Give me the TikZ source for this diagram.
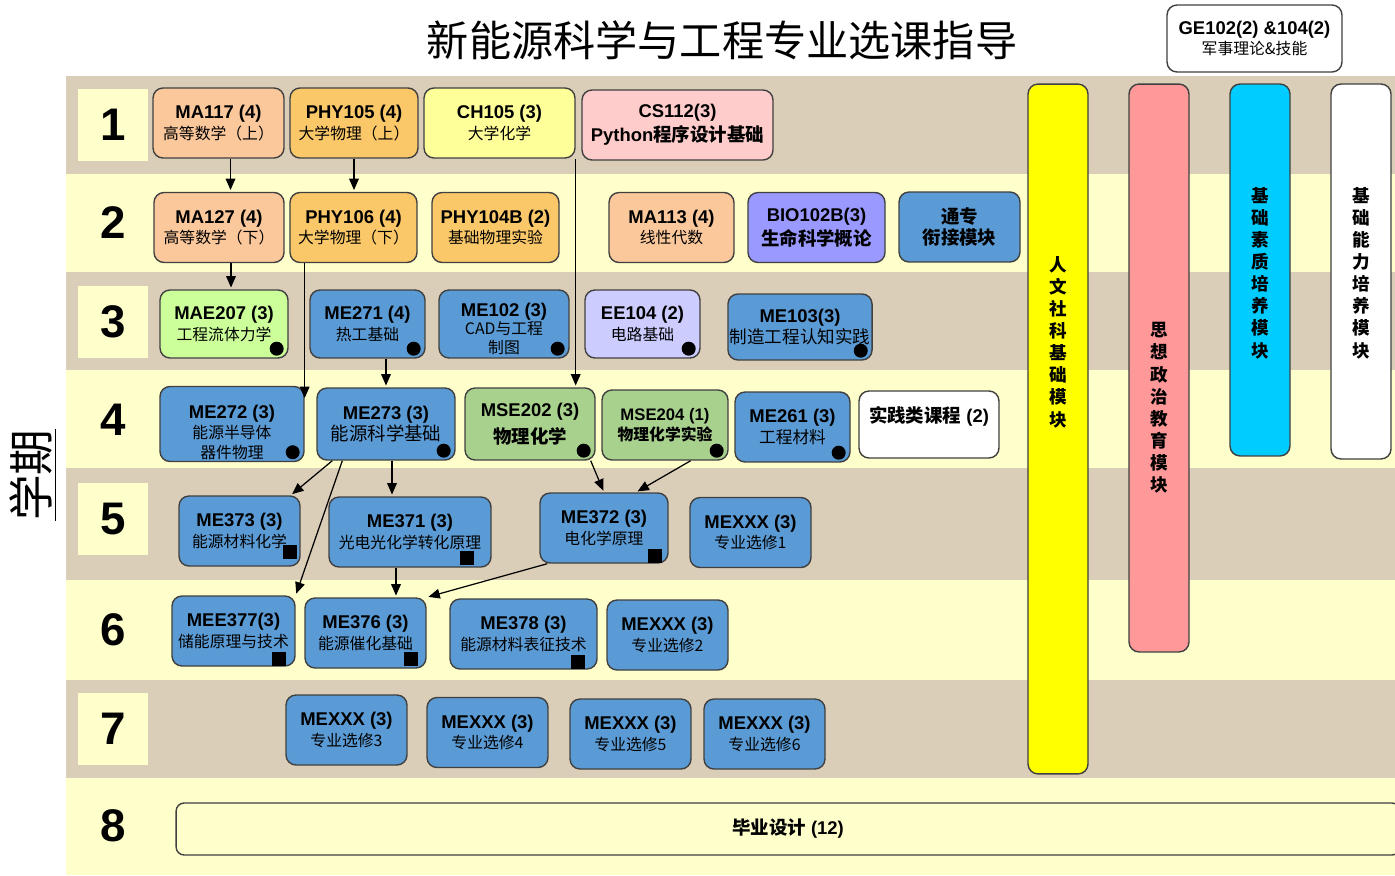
\documentclass[tikz,border=0pt]{standalone}
\usepackage{fontspec}
\setmainfont{Liberation Sans}
\newfontfamily\cjk{Noto Sans CJK SC}
\usetikzlibrary{positioning,calc,arrows.meta}
\definecolor{bandtan}{RGB}{219,206,184}
\definecolor{bandyel}{RGB}{255,255,204}
\definecolor{peach}{RGB}{251,200,156}
\definecolor{orangey}{RGB}{250,200,105}
\definecolor{chemyel}{RGB}{255,255,153}
\definecolor{cspink}{RGB}{255,204,204}
\definecolor{bioblue}{RGB}{153,153,255}
\definecolor{meblue}{RGB}{91,155,213}
\definecolor{maegreen}{RGB}{204,255,153}
\definecolor{eelilac}{RGB}{204,204,255}
\definecolor{msegreen}{RGB}{169,209,142}
\definecolor{modyellow}{RGB}{255,255,0}
\definecolor{modpink}{RGB}{255,153,153}
\definecolor{modcyan}{RGB}{0,204,255}
\newcommand{\zh}[1]{{\cjk\fontsize{9}{10}\selectfont #1}}
\newcommand{\zhb}[1]{{\cjk\bfseries #1}}
\tikzset{
  course/.style={draw=black!75, line width=0.8pt, rounded corners=0.2cm, align=center,
    inner sep=1pt, minimum height=1.4cm, font=\fontsize{10.5}{11.5}\selectfont},
  numbox/.style={fill=bandyel, minimum width=1.4cm, minimum height=1.44cm,
    font=\fontsize{26}{26}\selectfont\bfseries},
  modbar/.style={draw=black!75, line width=0.8pt, rounded corners=0.2cm, minimum width=1.2cm},
  vtext/.style={align=center, font=\cjk\bfseries\fontsize{10}{12.6}\selectfont},
  arr/.style={->, line width=0.7pt, shorten >=1pt}
}
\begin{document}
\begin{tikzpicture}[x=0.02cm, y=-0.02cm, >={Triangle[length=6.5pt,width=5.5pt]}]
    \useasboundingbox (0,0) rectangle (1395,875);

    % semester bands
    \foreach \top/\bot/\col in {76/174/bandtan, 174/272/bandyel, 272/370/bandtan, 370/468/bandyel,
        468/580/bandtan, 580/680/bandyel, 680/778/bandtan, 778/875/bandyel}
        \fill[\col] (66,\top) rectangle (1395,\bot);
    \foreach \i/\y in {1/125, 2/223, 3/322, 4/420, 5/519, 6/630, 7/729, 8/826}
        \node[numbox] (sem\i) at (113,\y) {\i};

    % title and side label
    \node[font=\cjk\fontsize{24}{24}\selectfont] (title) at (722,40) {新能源科学与工程专业选课指导};
    \node[rotate=90, font=\cjk\fontsize{26}{26}\selectfont] (term) at (33,475) {\underline{学期}};
    \node[course, fill=white, minimum width=3.5cm, minimum height=1.34cm] (ge) at (1254.5,38.5)
        {{\bfseries GE102(2) \&104(2)}\\\zh{军事理论\&技能}};

    % module bars
    \node[modbar, fill=modyellow, minimum height=13.8cm] (renwen) at (1058,429) {};
    \node[modbar, fill=modpink, minimum height=11.36cm] (sixiang) at (1159,368) {};
    \node[modbar, fill=modcyan, minimum height=7.44cm] (suzhi) at (1260,270) {};
    \node[modbar, fill=white, minimum height=7.5cm] (nengli) at (1361,271.5) {};
    \node[vtext] (renwen-t) at (1058,342) {人\\文\\社\\科\\基\\础\\模\\块};
    \node[vtext] (sixiang-t) at (1159,408) {思\\想\\政\\治\\教\\育\\模\\块};
    \node[vtext] (suzhi-t) at (1260,273) {基\\础\\素\\质\\培\\养\\模\\块};
    \node[vtext] (nengli-t) at (1361,273) {基\\础\\能\\力\\培\\养\\模\\块};

    % semester 1
    \node[course, fill=peach, minimum width=2.62cm] (ma117) at (218.5,123) {{\bfseries MA117 (4)}\\\zh{高等数学（上）}};
    \node[course, fill=orangey, minimum width=2.56cm] (phy105) at (354,123) {{\bfseries PHY105 (4)}\\\zh{大学物理（上）}};
    \node[course, fill=chemyel, minimum width=3.02cm] (ch105) at (499.5,123) {{\bfseries CH105 (3)}\\\zh{大学化学}};
    \node[course, fill=cspink, minimum width=3.82cm] (cs112) at (677.5,125) {{\bfseries CS112(3)}\\[2pt]{\bfseries Python\zhb{程序设计基础}}};

    % semester 2
    \node[course, fill=peach, minimum width=2.6cm] (ma127) at (219,227.5) {{\bfseries MA127 (4)}\\\zh{高等数学（下）}};
    \node[course, fill=orangey, minimum width=2.54cm] (phy106) at (353.5,227.5) {{\bfseries PHY106 (4)}\\\zh{大学物理（下）}};
    \node[course, fill=orangey, minimum width=2.54cm] (phy104b) at (495.5,227.5) {{\bfseries PHY104B (2)}\\\zh{基础物理实验}};
    \node[course, fill=peach, minimum width=2.5cm] (ma113) at (671.5,227.5) {{\bfseries MA113 (4)}\\\zh{线性代数}};
    \node[course, fill=bioblue, minimum width=2.74cm] (bio102b) at (816.5,227.5) {{\bfseries BIO102B(3)}\\[2pt]\zhb{生命科学概论}};
    \node[course, fill=meblue, minimum width=2.42cm] (tongzhuan) at (959.5,227) {\zhb{通专}\\\zhb{衔接模块}};

    % semester 3
    \node[course, fill=maegreen, minimum width=2.56cm, minimum height=1.36cm] (mae207) at (224,324) {{\bfseries MAE207 (3)}\\\zh{工程流体力学}};
    \node[course, fill=meblue, minimum width=2.3cm, minimum height=1.36cm] (me271) at (367.5,324) {{\bfseries ME271 (4)}\\\zh{热工基础}};
    \node[course, fill=meblue, minimum width=2.6cm, minimum height=1.36cm, inner ysep=0pt, font=\fontsize{10.5}{10.5}\selectfont] (me102) at (504,324) {\rule{0pt}{13pt}{\bfseries ME102 (3)}\\\zh{CAD与工程}\\\zh{制图}};
    \node[course, fill=eelilac, minimum width=2.3cm, minimum height=1.36cm] (ee104) at (642.5,324) {{\bfseries EE104 (2)}\\\zh{电路基础}};
    \node[course, fill=meblue, minimum width=2.8cm, minimum height=1.32cm] (me103) at (800,327) {{\bfseries ME103(3)}\\{\cjk\fontsize{10}{10}\selectfont 制造工程认知实践}};

    % semester 4
    \node[course, fill=meblue, minimum width=2.88cm, minimum height=1.44cm] (me272) at (232,424) {\rule{0pt}{17pt}{\bfseries ME272 (3)}\\\zh{能源半导体}\\\zh{器件物理}};
    \node[course, fill=meblue, minimum width=2.76cm, minimum height=1.44cm] (me273) at (386,424) {{\bfseries ME273 (3)}\\{\cjk 能源科学基础}};
    \node[course, fill=msegreen, minimum width=2.6cm, minimum height=1.44cm] (mse202) at (530,424) {{\bfseries MSE202 (3)}\\[4pt]\zhb{物理化学}};
    \node[course, fill=msegreen, minimum width=2.52cm] (mse204) at (665,425) {{\bfseries\fontsize{9.5}{11}\selectfont MSE204 (1)}\\{\cjk\bfseries\fontsize{9}{10}\selectfont 物理化学实验}};
    \node[course, fill=meblue, minimum width=2.3cm] (me261) at (792.5,427) {{\bfseries ME261 (3)}\\{\cjk\fontsize{9.5}{10}\selectfont 工程材料}};
    \node[course, fill=white, minimum width=2.8cm, minimum height=1.34cm] (practice) at (929,424.5) {\zhb{实践类课程} {\bfseries (2)}\\\mbox{}};

    % semester 5
    \node[course, fill=meblue, minimum width=2.42cm] (me373) at (239.5,531) {{\bfseries ME373 (3)}\\\zh{能源材料化学}};
    \node[course, fill=meblue, minimum width=3.24cm] (me371) at (410,532) {{\bfseries ME371 (3)}\\\zh{光电光化学转化原理}};
    \node[course, fill=meblue, minimum width=2.56cm] (me372) at (604,528) {{\bfseries ME372 (3)}\\\zh{电化学原理}};
    \node[course, fill=meblue, minimum width=2.42cm] (mexxx1) at (750.5,532.5) {{\bfseries MEXXX (3)}\\\zh{专业选修1}};

    % semester 6
    \node[course, fill=meblue, minimum width=2.46cm] (mee377) at (233.5,631) {{\bfseries MEE377(3)}\\\zh{储能原理与技术}};
    \node[course, fill=meblue, minimum width=2.42cm] (me376) at (365.5,633) {{\bfseries ME376 (3)}\\\zh{能源催化基础}};
    \node[course, fill=meblue, minimum width=2.94cm] (me378) at (523.5,634) {{\bfseries ME378 (3)}\\\zh{能源材料表征技术}};
    \node[course, fill=meblue, minimum width=2.42cm] (mexxx2) at (667.5,635) {{\bfseries MEXXX (3)}\\\zh{专业选修2}};

    % semester 7
    \node[course, fill=meblue, minimum width=2.42cm] (mexxx3) at (346.5,730) {{\bfseries MEXXX (3)}\\\zh{专业选修3}};
    \node[course, fill=meblue, minimum width=2.42cm] (mexxx4) at (487.5,732.5) {{\bfseries MEXXX (3)}\\\zh{专业选修4}};
    \node[course, fill=meblue, minimum width=2.42cm] (mexxx5) at (630.5,734) {{\bfseries MEXXX (3)}\\\zh{专业选修5}};
    \node[course, fill=meblue, minimum width=2.42cm] (mexxx6) at (764.5,734) {{\bfseries MEXXX (3)}\\\zh{专业选修6}};

    % semester 8
    \node[course, fill=bandyel, minimum width=24.48cm, minimum height=1.04cm, rounded corners=0.16cm] (grad) at (788,829) {\zhb{毕业设计} {\bfseries (12)}};

    % markers
    \foreach \n in {mae207,me271,me102,ee104,me103,me272,me273,mse202,mse204,me261}
        \fill ([shift={(-12,-10)}]\n.south east) circle (0.14cm);
    \foreach \n/\dx/\dy in {me373/-18/-8, me371/-32/-3, me372/-21/-1, mee377/-24/-1, me376/-23/-3, me378/-27/-1}
        \fill ([shift={(\dx,\dy)}]\n.south east) rectangle ++(14,-14);

    % prerequisites
    \draw[arr] ([xshift=0.24cm]ma117.south) -- ([xshift=0.24cm]ma117.south |- ma127.north);
    \draw[arr] (phy105.south) -- (phy105.south |- phy106.north);
    \draw[arr] ([xshift=0.24cm]ma127.south) -- ([xshift=0.24cm]ma127.south |- mae207.north);
    \draw[arr] (phy106.south -| me272.east) -- ([yshift=-0.28cm]me272.north east);
    \draw[arr] (ch105.south east) -- (ch105.south east |- mse202.north);
    \draw[arr] (me271.south -| me273.north) -- (me273.north);
    \draw[arr] ([xshift=0.32cm]me273.south west) -- ([xshift=-0.2cm]me373.north east);
    \draw[arr] ([xshift=0.52cm]me273.south west) -- (mee377.north east);
    \draw[arr] ([xshift=0.12cm]me273.south) -- ([xshift=0.12cm]me273.south |- me371.north);
    \draw[arr] ([xshift=-0.1cm]mse202.south east) -- (me372.north);
    \draw[arr] ([xshift=-0.76cm]mse204.south east) -- ([xshift=0.64cm]me372.north);
    \draw[arr] ([xshift=-0.28cm]me371.south) -- ([xshift=-0.28cm]me371.south |- me376.north);
    \draw[arr] ([xshift=0.16cm]me372.south west) -- (me376.north east);
\end{tikzpicture}
\end{document}
